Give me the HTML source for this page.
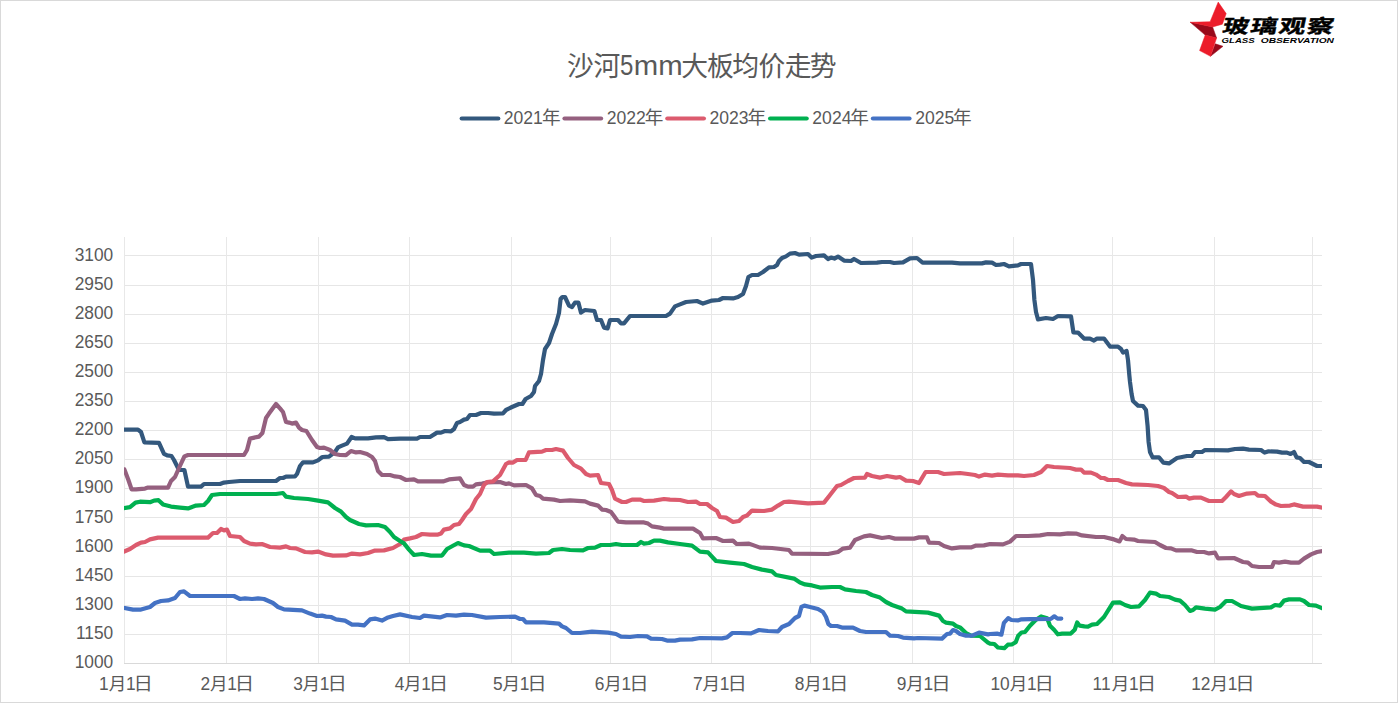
<!DOCTYPE html>
<html lang="zh-CN">
<head>
<meta charset="utf-8">
<title>沙河5mm大板均价走势</title>
<style>
html,body{margin:0;padding:0;background:#fff;}
body{width:1399px;height:705px;overflow:hidden;position:relative;font-family:"Liberation Sans",sans-serif;}
#frame{position:absolute;left:0;top:0;width:1396px;height:701px;border:1px solid #d9d9d9;background:#fff;}
#chart{position:absolute;left:0;top:0;width:1399px;height:705px;}
#chart svg{display:block;}
</style>
</head>
<body>
<div id="frame"></div>
<div id="chart">
<svg width="1399" height="705" viewBox="0 0 1399 705" role="img" aria-label="沙河5mm大板均价走势">
<desc>玻璃观察 GLASS OBSERVATION 沙河5mm大板均价走势 图例: 2021年 2022年 2023年 2024年 2025年 纵轴: 1000-3100 横轴: 1月1日 2月1日 3月1日 4月1日 5月1日 6月1日 7月1日 8月1日 9月1日 10月1日 11月1日 12月1日</desc>
<defs>
<clipPath id="plotclip"><rect x="124" y="230" width="1198" height="440"/></clipPath>
</defs>
<g id="grid" shape-rendering="crispEdges">
<rect x="124" y="255" width="1198" height="1" fill="#e6e6e6"/>
<rect x="124" y="285" width="1198" height="1" fill="#e6e6e6"/>
<rect x="124" y="314" width="1198" height="1" fill="#e6e6e6"/>
<rect x="124" y="343" width="1198" height="1" fill="#e6e6e6"/>
<rect x="124" y="372" width="1198" height="1" fill="#e6e6e6"/>
<rect x="124" y="401" width="1198" height="1" fill="#e6e6e6"/>
<rect x="124" y="430" width="1198" height="1" fill="#e6e6e6"/>
<rect x="124" y="459" width="1198" height="1" fill="#e6e6e6"/>
<rect x="124" y="488" width="1198" height="1" fill="#e6e6e6"/>
<rect x="124" y="517" width="1198" height="1" fill="#e6e6e6"/>
<rect x="124" y="546" width="1198" height="1" fill="#e6e6e6"/>
<rect x="124" y="576" width="1198" height="1" fill="#e6e6e6"/>
<rect x="124" y="605" width="1198" height="1" fill="#e6e6e6"/>
<rect x="124" y="634" width="1198" height="1" fill="#e6e6e6"/>
<rect x="124" y="237" width="1" height="426" fill="#e8e8e8"/>
<rect x="226" y="237" width="1" height="426" fill="#e8e8e8"/>
<rect x="318" y="237" width="1" height="426" fill="#e8e8e8"/>
<rect x="409" y="237" width="1" height="426" fill="#e8e8e8"/>
<rect x="511" y="237" width="1" height="426" fill="#e8e8e8"/>
<rect x="610" y="237" width="1" height="426" fill="#e8e8e8"/>
<rect x="711" y="237" width="1" height="426" fill="#e8e8e8"/>
<rect x="810" y="237" width="1" height="426" fill="#e8e8e8"/>
<rect x="912" y="237" width="1" height="426" fill="#e8e8e8"/>
<rect x="1013" y="237" width="1" height="426" fill="#e8e8e8"/>
<rect x="1112" y="237" width="1" height="426" fill="#e8e8e8"/>
<rect x="1214" y="237" width="1" height="426" fill="#e8e8e8"/>
<rect x="1312" y="237" width="1" height="426" fill="#e8e8e8"/>
<rect x="124" y="663" width="1198" height="1" fill="#d9d9d9"/>
</g>
<g id="series" clip-path="url(#plotclip)">
<polyline id="s2021" points="123.5,429.6 138.0,429.6 141.0,432.0 144.4,442.4 159.0,442.8 164.0,453.8 167.2,455.4 171.5,456.0 174.0,460.0 179.0,470.0 184.4,470.0 188.0,486.6 201.0,486.6 204.0,484.0 220.0,484.0 224.0,482.6 229.0,482.0 240.0,481.0 276.0,481.0 280.0,478.0 283.0,478.0 286.0,476.6 295.0,476.4 297.0,474.0 300.0,466.0 303.0,462.4 313.0,462.4 318.0,460.4 322.4,457.0 329.0,456.6 335.0,452.0 338.0,447.4 342.0,445.6 347.0,443.6 351.6,437.0 355.0,438.4 368.0,438.4 376.0,437.4 384.0,437.2 388.0,439.2 400.0,438.6 417.0,438.6 420.0,437.0 430.0,437.0 437.0,432.6 441.0,432.6 445.0,431.0 451.0,431.4 454.0,429.0 457.0,423.0 460.0,422.0 464.0,419.6 467.0,419.0 470.0,415.0 476.0,415.0 481.0,413.0 488.0,413.0 494.0,413.6 503.0,413.4 506.0,410.0 512.0,407.0 519.0,404.0 522.4,404.0 525.6,399.0 531.0,396.0 534.0,392.0 535.0,386.0 539.0,381.0 541.0,374.0 543.0,360.0 545.0,349.0 549.0,343.0 552.0,334.0 556.0,324.0 559.0,313.0 560.6,299.0 562.4,297.0 565.0,297.0 569.0,305.6 572.0,307.0 575.0,302.6 578.4,302.6 581.0,312.6 585.0,310.0 594.4,311.0 597.0,320.0 601.0,320.0 604.0,327.6 607.6,328.4 610.0,320.0 618.0,320.0 621.0,323.4 624.0,323.4 630.0,316.0 666.0,316.0 670.0,313.6 675.0,306.4 680.0,304.4 686.0,302.0 697.0,301.0 703.0,303.6 712.0,300.6 719.0,300.0 723.0,298.0 733.0,298.4 738.0,297.0 743.0,294.0 746.0,286.0 748.4,277.0 752.0,275.0 758.0,275.0 763.0,272.0 769.0,267.4 774.0,267.0 777.0,265.0 779.0,261.0 782.0,258.0 786.0,256.4 790.0,253.6 795.0,253.0 799.0,254.6 808.0,254.0 811.6,257.6 816.0,256.0 824.0,255.4 828.0,259.0 831.0,257.6 834.4,258.6 838.0,256.6 844.0,260.6 851.0,261.0 854.0,259.0 861.0,263.0 877.0,262.6 882.0,262.0 890.0,262.0 894.0,263.0 903.0,262.4 910.0,258.4 917.0,258.0 922.6,262.6 952.0,262.6 960.0,263.4 982.0,263.4 986.0,262.4 992.0,262.6 996.0,265.0 1000.0,264.6 1004.0,264.0 1009.0,266.4 1018.0,265.4 1021.0,264.0 1031.0,264.0 1033.0,280.0 1034.4,300.0 1036.0,312.0 1038.0,319.4 1046.0,318.0 1053.0,319.0 1058.0,316.0 1071.0,316.4 1073.4,332.4 1078.0,332.6 1084.0,338.6 1090.0,338.6 1094.0,340.6 1097.0,338.6 1104.0,338.6 1110.0,346.6 1118.0,346.6 1121.0,349.0 1123.0,352.6 1126.6,351.0 1128.0,360.0 1129.3,375.0 1130.0,382.0 1131.6,394.0 1133.0,401.0 1138.0,405.6 1143.0,406.0 1146.0,410.0 1147.6,426.0 1148.6,442.0 1150.0,452.0 1152.6,457.4 1159.0,457.4 1163.4,462.6 1169.0,463.4 1177.0,458.0 1187.0,456.0 1192.0,456.0 1195.0,452.0 1202.0,452.0 1205.0,450.0 1228.0,450.4 1235.0,449.0 1243.0,448.6 1249.0,449.6 1261.0,450.0 1264.6,452.6 1268.0,451.4 1277.0,451.6 1282.0,452.6 1287.0,452.6 1290.6,454.0 1294.0,452.0 1296.6,457.4 1300.0,458.0 1304.0,462.0 1309.0,462.0 1317.0,466.0 1322.5,466.0" fill="none" stroke="#33587d" stroke-width="4.2" stroke-linejoin="round" stroke-linecap="round"/>
<polyline id="s2022" points="124.4,469.4 128.4,480.0 131.6,489.4 136.0,489.4 145.0,488.6 148.0,487.6 168.0,487.6 171.0,481.0 175.0,477.0 179.0,468.0 184.4,456.4 188.0,455.0 244.0,455.0 247.0,450.0 250.0,438.6 259.0,436.6 262.4,433.0 266.0,418.0 269.0,413.6 276.0,404.0 280.0,408.4 283.0,412.0 286.0,422.0 289.0,422.6 292.0,423.6 296.0,422.6 299.0,427.6 302.0,430.0 306.4,431.0 312.0,440.0 317.0,447.0 320.0,448.0 324.0,447.6 330.0,450.0 335.0,454.0 340.0,455.0 346.0,455.2 351.0,451.0 356.0,452.4 360.0,452.0 367.0,454.0 372.0,457.0 375.0,461.0 378.0,471.0 382.0,475.0 390.0,475.0 395.0,476.4 400.0,477.0 406.0,480.0 414.0,479.4 418.0,481.4 443.0,481.4 449.0,479.4 460.0,478.4 464.0,485.0 468.0,486.6 473.0,486.6 476.0,484.4 482.0,483.6 488.0,482.4 500.0,482.0 506.0,484.0 509.0,483.4 514.0,485.4 526.0,485.0 532.0,488.4 536.0,495.0 540.0,496.0 543.0,498.6 554.0,499.6 560.0,501.0 570.0,500.4 585.0,501.4 590.0,503.6 598.0,505.6 602.0,509.6 606.0,510.0 611.0,512.0 614.0,516.0 618.0,521.6 626.0,522.4 644.0,522.4 648.0,523.6 652.0,526.4 660.0,527.6 664.0,528.6 680.0,528.6 693.0,528.6 700.0,533.0 703.0,538.4 716.0,538.0 723.0,541.0 733.0,540.6 736.6,544.0 749.0,543.6 760.0,547.6 772.0,548.0 789.0,550.0 792.0,553.6 828.0,554.0 838.0,552.0 843.0,548.6 850.0,547.6 855.0,540.0 864.0,536.4 870.0,535.4 882.0,538.0 889.0,537.0 895.0,538.6 914.0,538.6 919.0,537.4 927.0,537.4 929.0,542.6 939.0,543.0 944.0,546.0 952.0,548.4 960.0,547.4 971.0,547.4 976.0,545.6 984.0,545.4 990.0,544.0 1003.0,544.4 1010.0,541.6 1016.0,536.0 1028.0,536.0 1040.0,535.4 1048.0,534.0 1060.0,534.4 1068.0,533.4 1076.0,533.6 1082.0,535.4 1096.0,537.0 1104.0,537.0 1114.0,539.4 1119.6,541.4 1122.4,536.0 1126.0,539.0 1134.0,539.6 1138.0,541.0 1155.0,542.0 1160.0,545.0 1166.0,548.0 1171.0,548.4 1176.0,550.4 1192.0,550.4 1197.0,552.0 1204.0,552.0 1209.0,553.4 1215.0,552.6 1218.0,558.4 1234.0,558.0 1243.0,562.0 1248.0,562.6 1252.0,566.0 1259.0,567.0 1272.0,567.0 1274.0,562.0 1279.0,562.6 1285.0,561.6 1291.0,562.6 1299.0,562.6 1304.0,558.6 1311.0,554.4 1317.0,552.0 1322.5,551.0" fill="none" stroke="#95607f" stroke-width="4.2" stroke-linejoin="round" stroke-linecap="round"/>
<polyline id="s2023" points="123.5,551.8 130.0,549.0 136.0,545.0 141.0,542.6 145.0,542.0 150.0,539.4 158.0,537.6 208.0,537.6 213.0,533.0 217.0,533.0 221.0,529.0 224.0,530.4 227.0,529.6 230.0,536.0 240.0,537.0 244.0,541.0 250.0,543.6 256.0,544.4 262.0,544.0 270.0,547.0 280.0,547.6 286.0,546.4 290.0,548.0 296.0,548.4 305.0,552.0 312.0,552.4 318.0,551.6 326.0,554.4 333.0,555.6 346.0,555.4 352.0,553.6 360.0,554.4 368.0,553.0 375.0,550.6 384.0,550.4 393.0,548.0 400.0,544.0 404.0,539.6 410.0,538.4 416.0,537.0 422.0,534.0 430.0,534.6 438.0,534.6 441.0,533.6 444.0,529.6 450.0,528.4 454.0,525.0 459.0,524.0 462.0,520.0 466.0,514.0 471.0,509.0 476.0,499.0 480.0,494.0 484.0,485.0 487.0,482.0 493.0,481.4 500.0,475.0 506.0,464.0 509.0,462.4 513.0,462.6 517.0,460.0 525.6,460.0 529.0,452.4 542.0,451.6 546.0,450.0 552.0,450.0 556.0,449.0 563.0,450.6 568.0,458.0 574.0,465.0 581.0,468.6 586.0,474.0 590.0,475.6 598.0,475.0 601.0,483.0 609.0,484.0 612.0,490.0 615.0,498.6 622.0,502.0 626.0,502.0 632.0,499.6 640.0,499.6 644.0,501.0 654.0,500.6 664.0,499.0 670.0,499.6 680.0,500.0 688.0,502.0 696.0,501.6 700.0,504.0 707.0,504.0 712.0,508.0 717.0,511.0 720.0,517.0 726.0,517.6 733.0,522.0 739.0,521.0 743.0,517.0 747.0,515.6 752.0,510.6 764.0,511.0 772.0,509.6 778.0,505.6 784.0,502.0 789.0,501.6 808.0,503.4 824.0,502.6 830.0,495.0 837.0,486.0 841.0,485.0 848.0,481.0 854.0,478.0 865.0,477.6 867.0,474.0 872.0,476.0 880.0,477.6 887.0,476.0 896.0,477.6 900.0,477.0 906.0,480.6 913.0,481.0 919.0,483.0 922.0,478.0 925.6,472.0 938.0,472.0 944.0,474.0 960.0,473.0 968.0,474.0 975.0,475.0 979.0,476.6 985.0,474.6 992.0,475.6 998.0,474.6 1008.0,475.4 1018.0,475.4 1024.0,476.0 1034.0,475.0 1041.0,472.0 1047.0,466.0 1054.0,467.0 1070.0,468.0 1076.0,469.6 1081.0,469.6 1084.0,472.6 1091.0,472.6 1096.0,474.6 1101.0,478.0 1104.0,478.0 1108.0,480.0 1118.0,480.0 1126.0,483.0 1132.0,484.4 1148.0,485.0 1158.0,486.0 1164.0,488.0 1169.0,492.0 1172.0,493.0 1178.0,497.0 1186.0,496.6 1189.0,498.6 1194.0,497.6 1201.0,497.6 1209.0,501.0 1222.0,501.0 1226.0,497.0 1231.0,491.4 1234.0,494.0 1239.0,496.0 1247.0,493.6 1255.0,493.0 1258.0,495.6 1265.0,496.0 1271.0,501.6 1276.0,504.6 1281.0,506.0 1290.0,505.6 1294.0,504.4 1303.0,506.6 1317.0,506.6 1322.5,507.8" fill="none" stroke="#dc5b6e" stroke-width="4.2" stroke-linejoin="round" stroke-linecap="round"/>
<polyline id="s2024" points="123.5,508.2 130.0,507.2 135.5,502.6 140.0,501.7 150.0,502.2 154.0,500.6 158.5,500.2 163.0,504.4 171.0,506.6 180.0,507.6 188.0,508.4 196.0,505.6 204.0,505.0 208.0,501.0 212.0,495.0 220.0,494.0 276.0,494.0 283.0,493.0 286.0,496.6 294.0,498.0 308.0,499.0 318.0,500.6 328.0,502.4 335.0,508.0 341.0,511.6 346.0,517.0 350.0,520.0 359.0,524.0 366.0,525.4 378.0,525.0 385.0,527.0 390.0,532.0 394.0,537.0 400.0,541.0 404.0,543.4 409.0,549.6 414.0,555.0 422.0,554.0 431.0,555.6 442.0,555.6 447.0,549.0 458.0,543.0 464.0,545.4 469.0,546.0 480.0,550.6 490.0,550.6 494.0,554.0 509.0,552.6 524.0,552.6 536.0,553.6 549.0,553.0 553.0,550.0 562.0,549.0 570.0,550.0 583.0,550.4 588.0,548.0 595.0,547.6 601.0,545.0 610.0,545.0 616.0,544.0 622.0,545.0 637.0,545.0 641.0,542.0 644.0,543.6 649.0,543.0 654.0,540.6 660.0,540.6 668.0,542.4 680.0,544.0 692.0,545.6 700.0,551.6 708.0,552.4 716.0,561.0 730.0,562.6 744.0,564.0 752.0,567.0 762.0,569.6 772.0,571.4 776.0,575.0 794.0,578.6 800.0,582.6 805.0,584.4 812.0,585.4 820.0,587.6 832.0,587.0 840.0,587.0 845.0,589.4 856.0,591.0 866.0,592.0 872.0,595.0 880.0,597.6 886.0,602.0 892.0,605.0 902.0,608.6 906.0,611.4 928.0,612.6 939.0,615.6 943.0,621.0 946.0,622.6 953.0,623.6 956.0,626.0 960.0,627.4 966.0,633.0 971.0,635.6 980.0,636.0 988.0,642.6 990.0,643.6 994.3,644.0 997.9,647.5 1004.3,648.2 1007.9,644.7 1012.2,644.3 1015.7,642.2 1018.2,635.7 1021.5,632.5 1025.0,632.0 1030.0,625.7 1035.7,620.0 1041.1,616.4 1047.2,618.2 1050.0,625.7 1054.3,630.0 1057.9,634.3 1062.2,633.6 1070.8,633.6 1074.7,629.7 1077.2,622.5 1079.7,625.7 1084.4,626.4 1088.0,626.6 1092.0,624.6 1097.0,624.0 1104.0,617.0 1113.0,602.6 1120.0,602.4 1125.0,605.0 1131.0,607.0 1139.0,606.4 1145.0,600.0 1150.0,592.6 1156.0,593.6 1160.0,596.0 1169.0,597.0 1175.0,599.6 1180.0,600.6 1185.0,605.0 1190.0,611.0 1193.0,610.0 1196.0,607.4 1205.0,608.6 1215.0,609.6 1220.0,607.0 1226.0,601.0 1232.0,601.0 1241.0,606.0 1252.0,608.6 1271.0,607.4 1275.0,605.0 1280.0,605.6 1284.0,600.6 1289.0,599.4 1300.0,599.4 1304.0,601.0 1309.0,605.0 1316.0,605.6 1322.5,608.4" fill="none" stroke="#00b050" stroke-width="4.2" stroke-linejoin="round" stroke-linecap="round"/>
<polyline id="s2025" points="123.5,607.8 133.0,609.6 141.0,609.6 150.0,607.0 155.0,603.0 161.0,601.0 168.0,600.4 175.0,598.0 180.0,592.0 184.0,591.4 190.0,596.0 234.0,596.0 240.0,599.0 245.0,598.4 252.0,599.0 258.0,598.4 264.0,599.0 273.0,603.0 278.0,607.0 284.0,609.4 302.0,610.4 310.0,613.6 317.0,616.0 322.0,615.6 326.0,616.6 331.0,617.0 336.0,619.4 345.0,620.6 352.0,624.6 358.0,624.6 364.0,625.4 370.0,619.4 375.0,618.6 382.0,620.6 388.0,617.4 393.0,616.0 400.0,614.4 412.0,617.0 420.0,618.0 424.0,615.6 440.0,617.4 447.0,615.0 456.0,615.6 464.0,614.6 472.0,615.0 486.0,617.6 500.0,617.0 515.0,616.6 520.0,619.0 523.0,619.0 526.0,622.4 544.0,622.4 559.0,623.6 562.0,626.4 566.0,628.0 572.0,633.0 580.0,633.0 592.0,631.6 608.0,632.6 616.0,634.0 621.0,636.6 630.0,637.0 638.0,636.0 647.0,636.4 651.0,638.6 662.0,639.0 667.0,640.6 675.0,640.6 680.0,639.6 692.0,639.4 700.0,638.0 722.0,638.4 727.0,637.4 732.4,633.0 740.0,633.0 751.0,633.4 759.0,630.0 768.0,631.0 778.0,631.4 782.0,627.0 789.0,624.0 795.0,618.0 799.0,616.0 801.4,607.0 804.4,605.6 810.0,607.0 818.0,609.0 823.0,612.0 826.0,617.0 828.4,624.0 831.0,626.0 837.0,626.0 842.0,627.6 853.0,627.6 860.0,631.0 866.0,632.0 886.0,632.0 890.0,635.6 898.0,636.0 903.0,637.6 914.0,638.4 918.0,638.0 942.0,638.6 947.0,634.0 950.0,633.6 953.0,630.0 956.0,631.0 960.0,634.0 966.0,635.6 972.0,635.6 979.0,632.6 988.0,634.4 990.0,634.0 997.1,633.6 1001.4,634.7 1003.9,622.9 1008.2,618.2 1011.4,620.0 1017.9,620.4 1021.5,619.3 1030.0,619.2 1050.8,618.9 1054.3,616.3 1057.5,618.6 1061.3,618.6" fill="none" stroke="#4472c4" stroke-width="4.2" stroke-linejoin="round" stroke-linecap="round"/>
</g>
<g id="ylabels" font-family="'Liberation Sans', sans-serif" fill="#595959">
<text transform="translate(113.20 261.00) scale(0.9280 1)" font-size="18.70" text-anchor="end">3100</text>
<text transform="translate(113.20 290.06) scale(0.9280 1)" font-size="18.70" text-anchor="end">2950</text>
<text transform="translate(113.20 319.12) scale(0.9280 1)" font-size="18.70" text-anchor="end">2800</text>
<text transform="translate(113.20 348.18) scale(0.9280 1)" font-size="18.70" text-anchor="end">2650</text>
<text transform="translate(113.20 377.24) scale(0.9280 1)" font-size="18.70" text-anchor="end">2500</text>
<text transform="translate(113.20 406.30) scale(0.9280 1)" font-size="18.70" text-anchor="end">2350</text>
<text transform="translate(113.20 435.36) scale(0.9280 1)" font-size="18.70" text-anchor="end">2200</text>
<text transform="translate(113.20 464.42) scale(0.9280 1)" font-size="18.70" text-anchor="end">2050</text>
<text transform="translate(113.20 493.48) scale(0.9280 1)" font-size="18.70" text-anchor="end">1900</text>
<text transform="translate(113.20 522.54) scale(0.9280 1)" font-size="18.70" text-anchor="end">1750</text>
<text transform="translate(113.20 551.60) scale(0.9280 1)" font-size="18.70" text-anchor="end">1600</text>
<text transform="translate(113.20 580.66) scale(0.9280 1)" font-size="18.70" text-anchor="end">1450</text>
<text transform="translate(113.20 609.72) scale(0.9280 1)" font-size="18.70" text-anchor="end">1300</text>
<text transform="translate(113.20 638.78) scale(0.9280 1)" font-size="18.70" text-anchor="end">1150</text>
<text transform="translate(113.20 667.84) scale(0.9280 1)" font-size="18.70" text-anchor="end">1000</text>
</g>
<g id="xlabels" font-family="'Liberation Sans', 'Noto Sans CJK SC', sans-serif" fill="#595959">
<text transform="translate(99.08 690.00) scale(0.9280 1)" font-size="18.70">1</text>
<text transform="translate(108.69 690.00)" font-size="17.5">月</text>
<text transform="translate(125.93 690.00) scale(0.9280 1)" font-size="18.70">1</text>
<text transform="translate(133.57 690.00) scale(1.09 1)" font-size="17.8">日</text>
<text transform="translate(200.43 690.00) scale(0.9280 1)" font-size="18.70">2</text>
<text transform="translate(209.99 690.00)" font-size="17.5">月</text>
<text transform="translate(227.23 690.00) scale(0.9280 1)" font-size="18.70">1</text>
<text transform="translate(234.87 690.00) scale(1.09 1)" font-size="17.8">日</text>
<text transform="translate(293.24 690.00) scale(0.9280 1)" font-size="18.70">3</text>
<text transform="translate(302.59 690.00)" font-size="17.5">月</text>
<text transform="translate(319.83 690.00) scale(0.9280 1)" font-size="18.70">1</text>
<text transform="translate(327.47 690.00) scale(1.09 1)" font-size="17.8">日</text>
<text transform="translate(394.80 690.00) scale(0.9280 1)" font-size="18.70">4</text>
<text transform="translate(403.89 690.00)" font-size="17.5">月</text>
<text transform="translate(421.13 690.00) scale(0.9280 1)" font-size="18.70">1</text>
<text transform="translate(428.77 690.00) scale(1.09 1)" font-size="17.8">日</text>
<text transform="translate(493.11 690.00) scale(0.9280 1)" font-size="18.70">5</text>
<text transform="translate(502.49 690.00)" font-size="17.5">月</text>
<text transform="translate(519.73 690.00) scale(0.9280 1)" font-size="18.70">1</text>
<text transform="translate(527.37 690.00) scale(1.09 1)" font-size="17.8">日</text>
<text transform="translate(594.71 690.00) scale(0.9280 1)" font-size="18.70">6</text>
<text transform="translate(604.29 690.00)" font-size="17.5">月</text>
<text transform="translate(621.53 690.00) scale(0.9280 1)" font-size="18.70">1</text>
<text transform="translate(629.17 690.00) scale(1.09 1)" font-size="17.8">日</text>
<text transform="translate(693.01 690.00) scale(0.9280 1)" font-size="18.70">7</text>
<text transform="translate(702.59 690.00)" font-size="17.5">月</text>
<text transform="translate(719.83 690.00) scale(0.9280 1)" font-size="18.70">1</text>
<text transform="translate(727.47 690.00) scale(1.09 1)" font-size="17.8">日</text>
<text transform="translate(794.75 690.00) scale(0.9280 1)" font-size="18.70">8</text>
<text transform="translate(804.19 690.00)" font-size="17.5">月</text>
<text transform="translate(821.43 690.00) scale(0.9280 1)" font-size="18.70">1</text>
<text transform="translate(829.07 690.00) scale(1.09 1)" font-size="17.8">日</text>
<text transform="translate(896.78 690.00) scale(0.9280 1)" font-size="18.70">9</text>
<text transform="translate(906.29 690.00)" font-size="17.5">月</text>
<text transform="translate(923.53 690.00) scale(0.9280 1)" font-size="18.70">1</text>
<text transform="translate(931.17 690.00) scale(1.09 1)" font-size="17.8">日</text>
<text transform="translate(990.48 690.00) scale(0.9280 1)" font-size="18.70">10</text>
<text transform="translate(1009.69 690.00)" font-size="17.5">月</text>
<text transform="translate(1026.93 690.00) scale(0.9280 1)" font-size="18.70">1</text>
<text transform="translate(1034.57 690.00) scale(1.09 1)" font-size="17.8">日</text>
<text transform="translate(1092.58 690.00) scale(0.9280 1)" font-size="18.70">11</text>
<text transform="translate(1111.79 690.00)" font-size="17.5">月</text>
<text transform="translate(1129.03 690.00) scale(0.9280 1)" font-size="18.70">1</text>
<text transform="translate(1136.67 690.00) scale(1.09 1)" font-size="17.8">日</text>
<text transform="translate(1191.18 690.00) scale(0.9280 1)" font-size="18.70">12</text>
<text transform="translate(1210.39 690.00)" font-size="17.5">月</text>
<text transform="translate(1227.63 690.00) scale(0.9280 1)" font-size="18.70">1</text>
<text transform="translate(1235.27 690.00) scale(1.09 1)" font-size="17.8">日</text>
</g>
<g id="legend" font-family="'Liberation Sans', 'Noto Sans CJK SC', sans-serif" fill="#595959">
<line x1="461.7" y1="118.5" x2="498.3" y2="118.5" stroke="#33587d" stroke-width="4.2" stroke-linecap="round"/>
<text transform="translate(503.80 123.90) scale(0.9450 1)" font-size="18.60">2021</text>
<text transform="translate(542.10 124.00) scale(1.057 1)" font-size="17.64">年</text>
<line x1="564.5" y1="118.5" x2="601.1" y2="118.5" stroke="#95607f" stroke-width="4.2" stroke-linecap="round"/>
<text transform="translate(606.65 123.90) scale(0.9450 1)" font-size="18.60">2022</text>
<text transform="translate(644.80 124.00) scale(1.057 1)" font-size="17.64">年</text>
<line x1="667.3" y1="118.5" x2="703.9" y2="118.5" stroke="#dc5b6e" stroke-width="4.2" stroke-linecap="round"/>
<text transform="translate(709.50 123.90) scale(0.9450 1)" font-size="18.60">2023</text>
<text transform="translate(747.50 124.00) scale(1.057 1)" font-size="17.64">年</text>
<line x1="770.1" y1="118.5" x2="806.7" y2="118.5" stroke="#00b050" stroke-width="4.2" stroke-linecap="round"/>
<text transform="translate(812.35 123.90) scale(0.9450 1)" font-size="18.60">2024</text>
<text transform="translate(850.20 124.00) scale(1.057 1)" font-size="17.64">年</text>
<line x1="872.9" y1="118.5" x2="909.5" y2="118.5" stroke="#4472c4" stroke-width="4.2" stroke-linecap="round"/>
<text transform="translate(915.20 123.90) scale(0.9450 1)" font-size="18.60">2025</text>
<text transform="translate(952.90 124.00) scale(1.057 1)" font-size="17.64">年</text>
</g>
<g id="title" font-family="'Liberation Sans', 'Noto Sans CJK SC', sans-serif" fill="#595959">
<text transform="translate(567.00 75.90) scale(0.978 1)" font-size="27.4">沙</text>
<text transform="translate(593.40 75.90) scale(0.978 1)" font-size="27.4">河</text>
<text transform="translate(681.15 75.90) scale(0.978 1)" font-size="27.4">大</text>
<text transform="translate(707.10 75.90) scale(0.978 1)" font-size="27.4">板</text>
<text transform="translate(732.20 75.90) scale(0.978 1)" font-size="27.4">均</text>
<text transform="translate(758.60 75.90) scale(0.978 1)" font-size="27.4">价</text>
<text transform="translate(784.80 75.90) scale(0.978 1)" font-size="27.4">走</text>
<text transform="translate(809.70 75.90) scale(0.978 1)" font-size="27.4">势</text>
<text transform="translate(620.10 75.00) scale(0.8400 1)" font-size="28.60">5</text>
<text transform="translate(633.80 74.90) scale(1.0400 1)" font-size="28.20">mm</text>
</g>
<g id="logo">
<g stroke-width="0.5" stroke-linejoin="round">
<polygon points="1190.3,22.3 1212.6,26.9 1216.6,38.0 1205.2,35.1" fill="#98091a" stroke="#98091a"/>
<polygon points="1215.2,43.8 1223.0,46.3 1210.5,56.3" fill="#98091a" stroke="#98091a"/>
<polygon points="1218.2,2.1 1226.2,13.6 1222.4,24.2 1212.6,26.9 1190.3,22.3 1210.1,21.7" fill="#ec1c2a" stroke="#ec1c2a"/>
<polygon points="1205.2,35.1 1216.6,38.0 1210.5,56.3 1199.6,50.6" fill="#ec1c2a" stroke="#ec1c2a"/>
</g>
<g fill="#000" stroke="#000" stroke-width="0.4" stroke-linejoin="round" aria-label="玻璃观察" font-family="'Liberation Sans', 'Noto Sans CJK SC', sans-serif" font-weight="bold" font-size="19">
<text transform="translate(1221.6 33.4) skewX(-12) scale(1.41 1)">玻</text>
<text transform="translate(1249.6 33.4) skewX(-12) scale(1.41 1)">璃</text>
<text transform="translate(1277.8 33.4) skewX(-12) scale(1.41 1)">观</text>
<text transform="translate(1305.7 33.4) skewX(-12) scale(1.41 1)">察</text>
</g>
<g fill="#000" font-family="'Liberation Sans', sans-serif" font-weight="bold" font-style="italic" font-size="7.7">
<text x="1221.6" y="42.9" textLength="33" lengthAdjust="spacingAndGlyphs">GLASS</text>
<text x="1260.8" y="42.9" textLength="73.2" lengthAdjust="spacingAndGlyphs">OBSERVATION</text>
</g>
</g>

</svg>
</div>
</body>
</html>
